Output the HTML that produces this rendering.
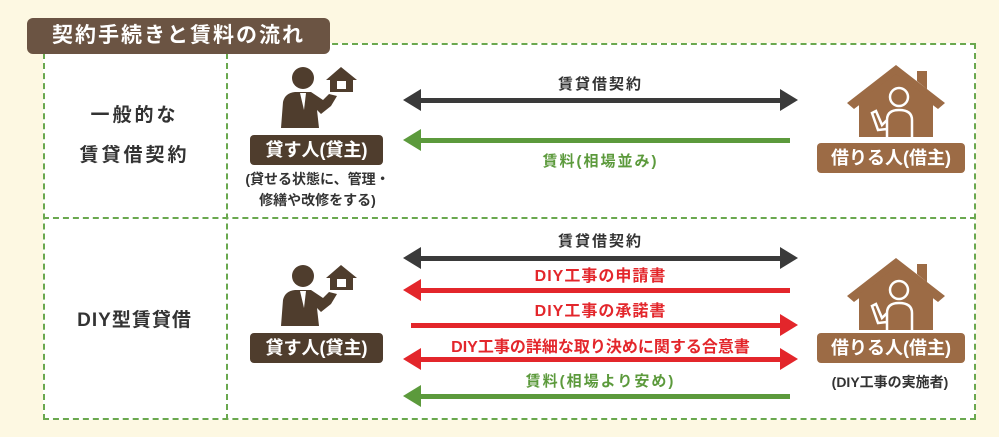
<!DOCTYPE html>
<html><head><meta charset="utf-8"><style>
body{margin:0;width:999px;height:437px;background:#fdf8e2;position:relative;overflow:hidden;font-family:"Liberation Sans","Noto Sans CJK JP",sans-serif;font-weight:bold}
.a{position:absolute}
.box{left:43px;top:43px;width:933px;height:377px;background:#fff;border:2px dashed #6aa84f;box-sizing:border-box}
.t{position:absolute;white-space:nowrap;text-align:center}
.lab{position:absolute;color:#fff;font-size:18px;text-align:center;line-height:30px;border-radius:4px}
</style></head><body>
<div class="a box"></div>
<div class="a" style="left:43px;top:217px;width:933px;border-top:2px dashed #6aa84f"></div>
<div class="a" style="left:226px;top:43px;height:377px;border-left:2px dashed #6aa84f"></div>
<div class="a" style="left:27px;top:18px;width:303px;height:36px;background:#6b5443;border-radius:6px;color:#fff;font-size:21px;line-height:36px;text-align:center;letter-spacing:2px">契約手続きと賃料の流れ</div>
<div class="t" style="left:43px;width:183px;top:100px;font-size:19px;color:#333;letter-spacing:3px">一般的な</div>
<div class="t" style="left:43px;width:183px;top:140px;font-size:19px;color:#333;letter-spacing:3px">賃貸借契約</div>
<div class="t" style="left:43px;width:183px;top:305px;font-size:19px;color:#333;letter-spacing:1px">DIY型賃貸借</div>

<svg class="a" style="left:0;top:0" width="999" height="437">
<defs>
<g id="ll"><circle cx="22" cy="12" r="11" fill="#4f3d2d"/><path d="M0 62 L2 36 Q4 27 14 26 L30 26 L42 34 L48 28 L56 30 L50 40 L40 48 L36 44 L38 62Z" fill="#4f3d2d"/><path d="M19 27 L25 27 L23 44Z" fill="#fff"/><path d="M45 14 L60 1 L76 14 L72 14 L72 26 L49 26 L49 14Z" fill="#4f3d2d"/><rect x="56" y="15" width="9" height="8" fill="#fff"/></g>
<g id="tt"><path d="M0 38 L49 0 L98 38 L91 44 L49 12 L7 44Z M70 6 h10 v18 l-10 -8z" fill="#9c6b45"/><path d="M12 36 L49 9 L86 36 L86 72 L12 72Z" fill="#9c6b45"/><circle cx="52" cy="32" r="9" fill="none" stroke="#fff" stroke-width="2.5"/><path d="M40 72 L40 55 Q40 45 52 45 Q65 45 65 55 L65 72 M40 55 L35 60 L29 46 L25 48 L31 65 L40 64" fill="none" stroke="#fff" stroke-width="2.5"/></g>
</defs>
<use href="#ll" x="281" y="66"/>
<use href="#ll" x="281" y="264"/>
<use href="#tt" x="847" y="65"/>
<use href="#tt" x="847" y="258"/>
<g fill="#3a3a3a"><rect x="415" y="98" width="370" height="5"/><path d="M403 100 L421 89 L421 111Z M798 100 L780 89 L780 111Z"/></g>
<g fill="#5c9a3c"><rect x="415" y="138" width="375" height="5"/><path d="M403 140 L421 129 L421 151Z"/></g>
<g fill="#3a3a3a"><rect x="415" y="256" width="370" height="5"/><path d="M403 258 L421 247 L421 269Z M798 258 L780 247 L780 269Z"/></g>
<g fill="#e3262b"><rect x="415" y="288" width="375" height="5"/><path d="M403 290 L421 279 L421 301Z"/>
<rect x="411" y="323" width="375" height="5"/><path d="M798 325 L780 314 L780 336Z"/>
<rect x="415" y="357" width="370" height="5"/><path d="M403 359 L421 348 L421 370Z M798 359 L780 348 L780 370Z"/></g>
<g fill="#5c9a3c"><rect x="415" y="394" width="375" height="5"/><path d="M403 396 L421 385 L421 407Z"/></g>
</svg>

<div class="lab" style="left:250px;top:135px;width:133px;background:#4f3d2d">貸す人(貸主)</div>
<div class="lab" style="left:250px;top:333px;width:133px;background:#4f3d2d">貸す人(貸主)</div>
<div class="lab" style="left:817px;top:143px;width:148px;background:#9c6b45">借りる人(借主)</div>
<div class="lab" style="left:817px;top:333px;width:148px;background:#9c6b45">借りる人(借主)</div>
<div class="t" style="left:230px;width:175px;top:169px;font-size:14px;color:#333;line-height:21px">(貸せる状態に、管理・<br>修繕や改修をする)</div>
<div class="t" style="left:800px;width:180px;top:372px;font-size:14px;color:#333">(DIY工事の実施者)</div>

<div class="t" style="left:403px;width:395px;top:73px;font-size:15px;color:#333;letter-spacing:2px">賃貸借契約</div>
<div class="t" style="left:403px;width:395px;top:150px;font-size:15px;color:#5c9a3c;letter-spacing:2px">賃料(相場並み)</div>
<div class="t" style="left:403px;width:395px;top:230px;font-size:15px;color:#333;letter-spacing:2px">賃貸借契約</div>
<div class="t" style="left:403px;width:395px;top:262px;font-size:16px;color:#e3262b;letter-spacing:1px">DIY工事の申請書</div>
<div class="t" style="left:403px;width:395px;top:297px;font-size:16px;color:#e3262b;letter-spacing:1px">DIY工事の承諾書</div>
<div class="t" style="left:403px;width:395px;top:333px;font-size:16px;color:#e3262b">DIY工事の詳細な取り決めに関する合意書</div>
<div class="t" style="left:403px;width:395px;top:370px;font-size:15px;color:#5c9a3c;letter-spacing:2px">賃料(相場より安め)</div>
</body></html>
